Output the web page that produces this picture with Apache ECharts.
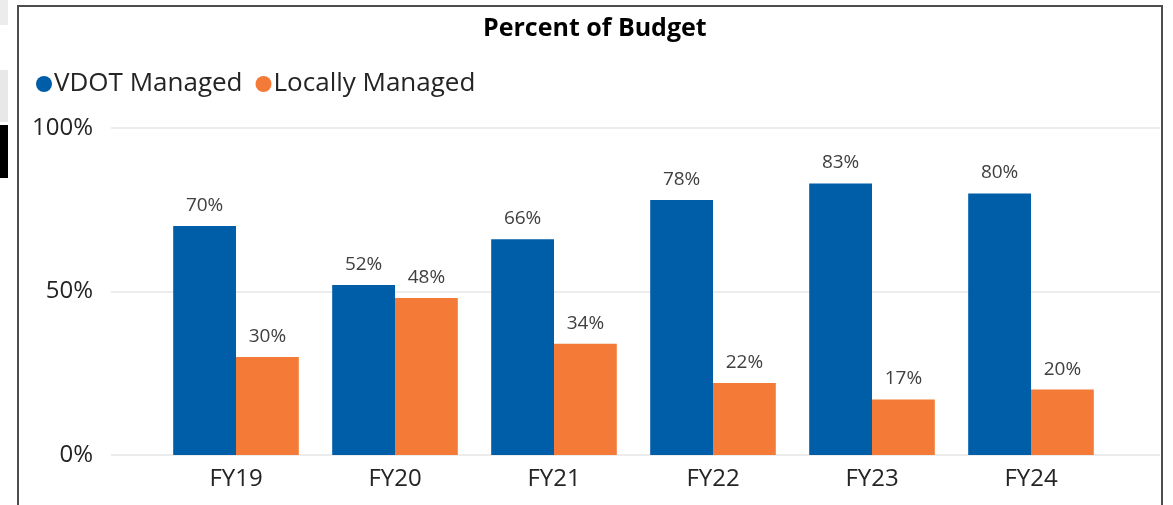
<!DOCTYPE html>
<html><head><meta charset="utf-8">
<script src="https://cdn.jsdelivr.net/npm/echarts@6/dist/echarts.min.js"></script>
<style>
html,body{margin:0;padding:0;background:#fff;}
#wrap{position:relative;width:1173px;height:505px;overflow:hidden;}
#frame{position:absolute;left:17px;top:5px;width:1146px;height:540px;border:2px solid #4d4d4d;box-sizing:border-box;}
.art{position:absolute;left:0;width:8px;}
#chart{position:absolute;left:0;top:0;width:1173px;height:505px;}
</style></head>
<body><div id="wrap">
<div class="art" style="top:0;height:25px;background:#ececec"></div>
<div class="art" style="top:70px;height:52px;background:#e8e8e8"></div>
<div class="art" style="top:125px;height:53px;background:#000"></div>
<div id="frame"></div>
<div id="chart"></div>
</div>
<script>
const categories = ['FY19','FY20','FY21','FY22','FY23','FY24'];
const vdotManaged = [70,52,66,78,83,80];
const locallyManaged = [30,48,34,22,17,20];
const yTicks = [0,50,100];

const font = '"Segoe UI","Open Sans","Noto Sans",sans-serif';
const chart = echarts.init(document.getElementById('chart'), null, {renderer:'canvas'});
const labelStyle = {show:true, position:'top', distance:11, formatter:p=>p.value+'%', fontSize:19, color:'#404040', fontFamily:font};
chart.setOption({
  backgroundColor:'transparent',
  animation:false,
  title:{text:'Percent of Budget', left:478, top:11, textStyle:{fontSize:25, fontWeight:'bold', color:'#000', fontFamily:font}},
  legend:{left:31, top:66, itemWidth:16, itemHeight:16, itemGap:13, icon:'circle',
    textStyle:{fontSize:26, color:'#252423', fontFamily:font, padding:[0,0,0,-3]},
    data:['VDOT Managed','Locally Managed']},
  grid:[
    {left:111, right:13, top:128, bottom:50},
    {left:156.5, right:62.5, top:128, bottom:50}
  ],
  xAxis:[
    {gridIndex:0, type:'value', show:false, min:0, max:1},
    {gridIndex:1, type:'category', data:categories, axisLine:{show:false}, axisTick:{show:false},
      axisLabel:{fontSize:24, color:'#252423', margin:12, fontFamily:font}}
  ],
  yAxis:[
    {gridIndex:0, type:'value', min:0, max:100, interval:50,
      axisLabel:{formatter:v=>v+'%', fontSize:24, color:'#252423', margin:18, fontFamily:font},
      splitLine:{lineStyle:{color:'#e6e6e6', width:1.5}}, axisLine:{show:false}, axisTick:{show:false}},
    {gridIndex:1, type:'value', min:0, max:100, interval:50, show:false, splitLine:{show:false}}
  ],
  series:[
    {name:'VDOT Managed', type:'bar', xAxisIndex:1, yAxisIndex:1, data:vdotManaged, barGap:'0%', barCategoryGap:'21%',
      itemStyle:{color:'#005DA8'}, label:labelStyle},
    {name:'Locally Managed', type:'bar', xAxisIndex:1, yAxisIndex:1, data:locallyManaged, barGap:'0%', barCategoryGap:'21%',
      itemStyle:{color:'#F47A38'}, label:labelStyle}
  ]
});
</script></body></html>
